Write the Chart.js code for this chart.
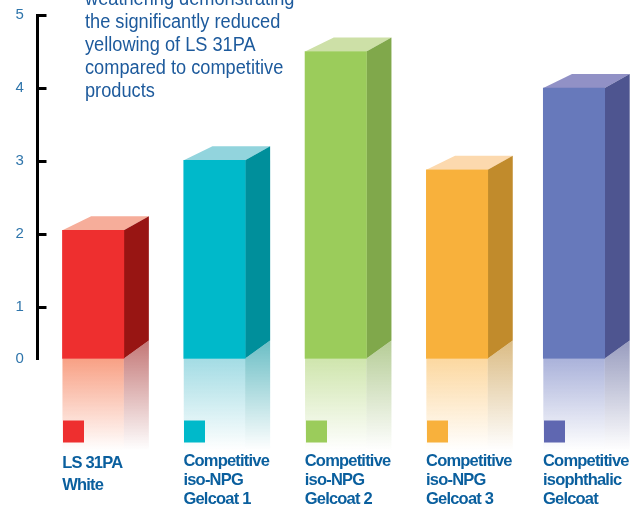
<!DOCTYPE html>
<html>
<head>
<meta charset="utf-8">
<script src="https://cdn.jsdelivr.net/npm/chart.js@4"></script>
<style>
    html, body { margin: 0; background: #fff; }
    #wrap { position: relative; width: 644px; height: 506px; overflow: hidden; }
    #note {
        position: absolute; left: 85px; top: -13px; white-space: pre;
        font: 20px/23.1px "Liberation Sans", sans-serif;
        color: #1d5a9c;
        transform: scaleX(0.91);
        transform-origin: left top;
    }
</style>
</head>
<body>
<div id="wrap">
    <canvas id="chart" width="644" height="506"></canvas>
    <div id="note"></div>
</div>
<script>
const noteLines = [
    'weathering demonstrating',
    'the significantly reduced',
    'yellowing of LS 31PA',
    'compared to competitive',
    'products'
];
const products = [
    ['LS 31PA', 'White'],
    ['Competitive', 'iso-NPG', 'Gelcoat 1'],
    ['Competitive', 'iso-NPG', 'Gelcoat 2'],
    ['Competitive', 'iso-NPG', 'Gelcoat 3'],
    ['Competitive', 'isophthalic', 'Gelcoat']
];
const ratings = [2.05, 3.01, 4.5, 2.88, 4.0];
const yTicks = ['0', '1', '2', '3', '4', '5'];

const frontColors = ['#ee2f2f', '#00b9ca', '#9bcc5b', '#f8b13c', '#6779bb'];
const topColors = ['#f6ad9a', '#92d4dd', '#cde0a7', '#fcd9ae', '#9191c6'];
const sideColors = ['#981513', '#008f9b', '#80a84b', '#c18b2c', '#4e5590'];
const mirrorColors = ['#f8a084', '#a3dce4', '#cfe5ad', '#fcd8a0', '#aab2da'];
const swatchColors = ['#ee2f2f', '#00b9ca', '#9bcc5b', '#f8b13c', '#5f67b1'];

document.getElementById('note').textContent = noteLines.join('\n');

// Axis with a short first unit: 0 to 1 is squeezed, the rest is evenly spaced
const FIRST_UNIT = 52 / 344;
class PinchedScale extends Chart.LinearScale {
    static id = 'pinched';
    static defaults = Chart.LinearScale.defaults;
    getPixelForValue(value) {
        const part = value <= 1 ? value * FIRST_UNIT : FIRST_UNIT + (value - 1) * (1 - FIRST_UNIT) / 4;
        return this.bottom - part * (this.bottom - this.top);
    }
    getValueForPixel(pixel) {
        const part = (this.bottom - pixel) / (this.bottom - this.top);
        return part <= FIRST_UNIT ? part / FIRST_UNIT : 1 + (part - FIRST_UNIT) * 4 / (1 - FIRST_UNIT);
    }
}

// Columns sit a little left of their slots, the last one more than the others
class ColumnScale extends Chart.CategoryScale {
    static id = 'column';
    static defaults = Chart.CategoryScale.defaults;
    getPixelForValue(value, index) {
        const i = typeof value === 'number' ? value : this.parse(value);
        return super.getPixelForValue(i, index) - (i === 4 ? 9.35 : 5);
    }
}
Chart.register(PinchedScale, ColumnScale);

function polygon(ctx, points, fill) {
    ctx.beginPath();
    points.forEach(([x, y], i) => (i ? ctx.lineTo(x, y) : ctx.moveTo(x, y)));
    ctx.closePath();
    ctx.fillStyle = fill;
    ctx.fill();
}

function fade(ctx, color, alpha, y0, y1) {
    const g = ctx.createLinearGradient(0, y0, 0, y1);
    g.addColorStop(0, Chart.helpers.color(color).alpha(alpha).rgbString());
    g.addColorStop(1, Chart.helpers.color(color).alpha(0).rgbString());
    return g;
}

// Top and side faces of each block, and its reflection under the floor
const blockFaces = {
    id: 'blockFaces',
    beforeDraw(chart) {
        chart.ctx.letterSpacing = '-0.8px';
    },
    beforeDatasetsDraw(chart) {
        const ctx = chart.ctx;
        chart.getDatasetMeta(0).data.forEach((bar, i) => {
            const left = bar.x - bar.width / 2;
            const right = bar.x + bar.width / 2;
            const base = bar.base;
            polygon(ctx, [[left, bar.y], [left + 28.7, bar.y - 14], [right + 25, bar.y - 14], [right, bar.y]], topColors[i]);
            polygon(ctx, [[right, bar.y], [right + 25, bar.y - 14], [right + 25, base - 18], [right, base]], sideColors[i]);
            ctx.fillStyle = fade(ctx, mirrorColors[i], 1, base, base + 92);
            ctx.fillRect(left, base, bar.width, 92);
            polygon(ctx, [[right, base], [right + 25, base - 18], [right + 25, base + 92], [right, base + 92]],
                fade(ctx, sideColors[i], 0.58, base - 18, base + 92));
        });
    },
    afterDatasetsDraw(chart) {
        const ctx = chart.ctx;
        chart.getDatasetMeta(0).data.forEach((bar, i) => {
            ctx.fillStyle = swatchColors[i];
            ctx.fillRect(Math.floor(bar.x - bar.width / 2) + 1, bar.base + 62, 21, 22);
        });
    }
};

new Chart(document.getElementById('chart'), {
    type: 'bar',
    data: {
        labels: products,
        datasets: [{
            data: ratings,
            backgroundColor: frontColors,
            barThickness: 61.4,
            borderWidth: 0
        }]
    },
    options: {
        responsive: false,
        animation: false,
        layout: { padding: { top: 15 } },
        plugins: { legend: { display: false }, tooltip: { enabled: false } },
        scales: {
            x: {
                type: 'column',
                afterFit: scale => {
                    scale.height = 147;
                    scale.paddingLeft = 0;
                    scale.paddingRight = 0;
                },
                grid: { display: false },
                border: { display: false },
                ticks: {
                    autoSkip: false,
                    maxRotation: 0,
                    align: 'start',
                    labelOffset: -31,
                    padding: 85,
                    color: '#0a5f9e',
                    font: ctx => ({
                        family: '"Liberation Sans", sans-serif',
                        size: 16.5,
                        weight: 'bold',
                        lineHeight: ctx.index === 0 ? '22px' : '19px'
                    })
                }
            },
            y: {
                type: 'pinched',
                min: 0,
                max: 5,
                afterFit: scale => {
                    scale.width = 37.5;
                    scale.paddingTop = 0;
                    scale.paddingBottom = 0;
                },
                afterTickToLabelConversion: scale => {
                    scale.ticks.forEach((t, i) => { t.label = yTicks[i]; });
                },
                border: { display: true, color: '#000', width: 3 },
                grid: {
                    drawOnChartArea: false,
                    tickLength: -9,
                    tickWidth: 3,
                    tickColor: ctx => (ctx.tick && ctx.tick.value === 0 ? 'transparent' : '#000')
                },
                ticks: {
                    stepSize: 1,
                    padding: 23.5,
                    color: '#2f75ab',
                    font: { family: '"Liberation Sans", sans-serif', size: 15 }
                }
            }
        }
    },
    plugins: [blockFaces]
});
</script>
</body>
</html>
